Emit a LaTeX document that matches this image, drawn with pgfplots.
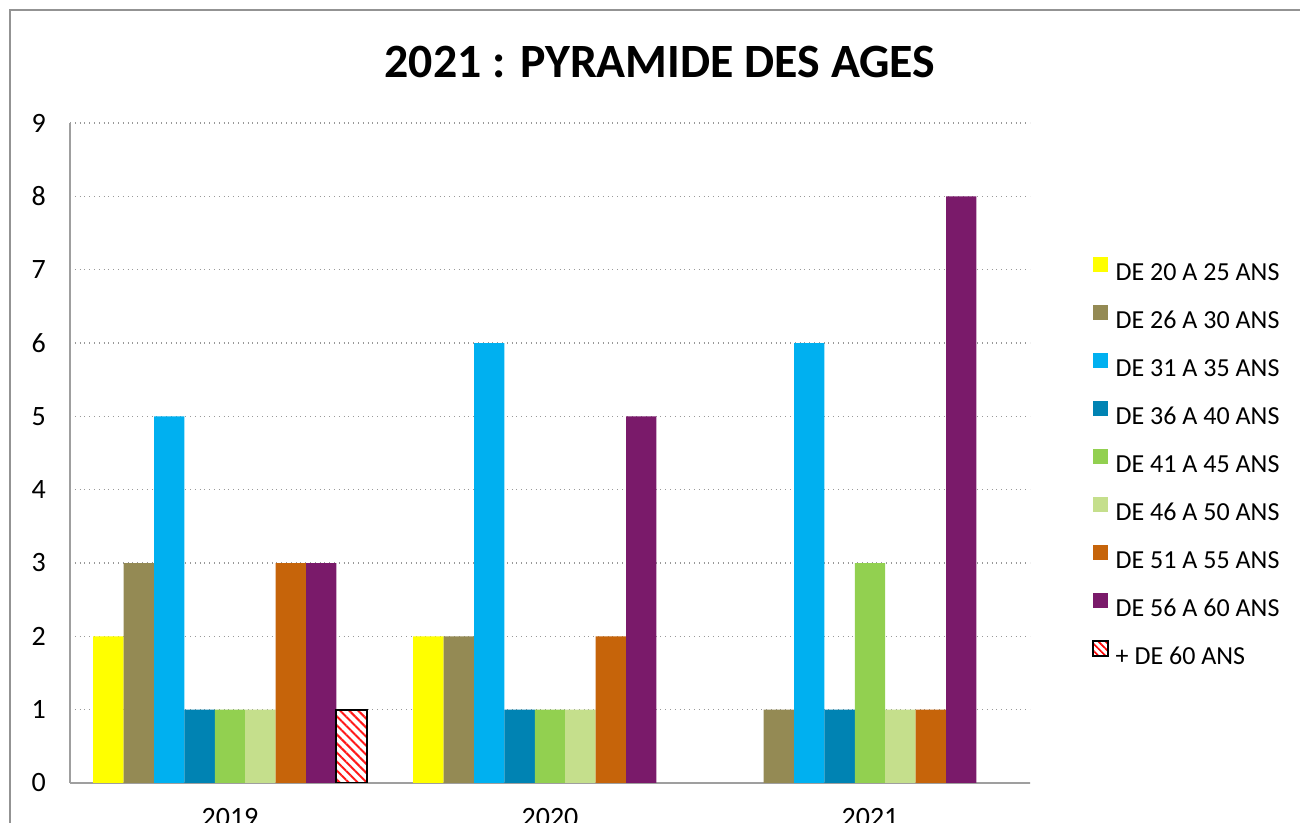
\documentclass[border=0pt]{standalone}
\usepackage{fontspec}
\setmainfont{Carlito}
\usepackage{pgfplots}
\pgfplotsset{compat=1.18}
\usetikzlibrary{patterns.meta}
\definecolor{cYel}{HTML}{FFFF00}
\definecolor{cOli}{HTML}{948A54}
\definecolor{cBlu}{HTML}{00B0F0}
\definecolor{cTea}{HTML}{0083B3}
\definecolor{cGre}{HTML}{92D050}
\definecolor{cLgr}{HTML}{C5DF8C}
\definecolor{cOra}{HTML}{C6640A}
\definecolor{cPur}{HTML}{7A1A6A}
\begin{document}
\begin{tikzpicture}
\useasboundingbox (0,0) rectangle (650pt,411.5pt);
\draw[gray!85, line width=1pt] (5pt,-5pt) -- (5pt,406.5pt) -- (660pt,406.5pt);
\node[font=\bfseries\fontsize{23.9}{26}\selectfont, anchor=base] at (330pt,372.5pt) {2021 : PYRAMIDE DES AGES};
\begin{axis}[
  at={(35pt,20pt)}, anchor=south west,
  scale only axis, width=480pt, height=330pt,
  xmin=-0.5, xmax=2.5, ymin=0, ymax=9,
  ybar=0pt, bar width=15.2pt,
  xtick={0,1,2}, xticklabels={2019,2020,2021},
  ytick={0,1,...,9},
  major tick length=0pt,
  axis x line*=bottom, axis y line*=left,
  axis line style={gray!75, line width=1pt, -},
  ymajorgrids, grid style={gray!80, dotted, line width=0.7pt},
  tick label style={font=\fontsize{14}{16}\selectfont},
  /pgf/number format/assume math mode=true,
  yticklabel style={anchor=east, xshift=-8.5pt},
  xticklabel style={anchor=north, yshift=-9pt},
  legend style={at={(1.058,0.805)}, anchor=north west, draw=none, fill=none,
    font=\fontsize{13}{16}\selectfont, row sep=7pt,
    nodes={text height=10pt, text depth=3pt, inner sep=2pt},
    /tikz/every odd column/.append style={column sep=1.5pt}},
  legend cell align=left,
  legend image code/.code={\fill[#1] (0pt,0.8pt) rectangle (7.5pt,8.3pt);},
]
\addplot[fill=cYel, draw=none] coordinates {(0,2) (1,2)};
\addplot[fill=cOli, draw=none] coordinates {(0,3) (1,2) (2,1)};
\addplot[fill=cBlu, draw=none] coordinates {(0,5) (1,6) (2,6)};
\addplot[fill=cTea, draw=none] coordinates {(0,1) (1,1) (2,1)};
\addplot[fill=cGre, draw=none] coordinates {(0,1) (1,1) (2,3)};
\addplot[fill=cLgr, draw=none] coordinates {(0,1) (1,1) (2,1)};
\addplot[fill=cOra, draw=none] coordinates {(0,3) (1,2) (2,1)};
\addplot[fill=cPur, draw=none] coordinates {(0,3) (1,5) (2,8)};
\addplot[pattern={Lines[angle=-45, distance=3.2pt, line width=1pt]}, pattern color=red!90, draw=black, line width=1pt,
  legend image code/.code={\draw[pattern={Lines[angle=-45, distance=2.5pt, line width=0.8pt]}, pattern color=red, draw=black, line width=0.8pt] (0pt,0.8pt) rectangle (7.5pt,8.3pt);}] coordinates {(0,1)};
\legend{DE 20 A 25 ANS, DE 26 A 30 ANS, DE 31 A 35 ANS, DE 36 A 40 ANS, DE 41 A 45 ANS, DE 46 A 50 ANS, DE 51 A 55 ANS, DE 56 A 60 ANS, + DE 60 ANS}
\end{axis}
\end{tikzpicture}
\end{document}
